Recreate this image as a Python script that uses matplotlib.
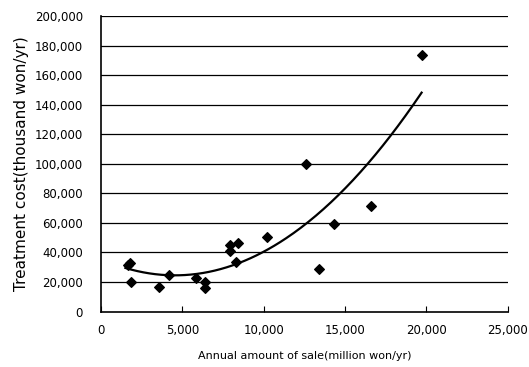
import numpy as np
import matplotlib.pyplot as plt
from matplotlib.ticker import FuncFormatter

# annual sale (million won/yr) vs treatment cost (thousand won/yr)
sale = [19700, 12600, 16600, 14300, 13400, 10200, 8400, 7900, 7900, 8300,
        1800, 1650, 1850, 3550, 4200, 5850, 6400, 6400]
cost = [173500, 99700, 71300, 59300, 28700, 50500, 46300, 45100, 41300, 33800,
        33100, 31600, 20100, 16500, 24600, 22800, 20300, 16200]

xticks = [0, 5000, 10000, 15000, 20000, 25000]
yticks = list(range(0, 200001, 20000))

fig = plt.figure(figsize=(5.29, 3.67), dpi=100)
ax = fig.add_axes([0.191, 0.151, 0.769, 0.805])

# horizontal grid lines
for yv in yticks[1:]:
    ax.axhline(yv, color="black", lw=0.9, zorder=1)

ax.scatter(sale, cost, marker="D", s=24, color="black", zorder=3)

# quadratic trend line
coef = np.polyfit(sale, cost, 2)
xs = np.linspace(min(sale) - 150, max(sale), 200)
ax.plot(xs, np.polyval(coef, xs), color="black", lw=1.6, zorder=2)

ax.set_xlim(0, 25000)
ax.set_ylim(0, 200000)
ax.set_xticks(xticks)
ax.set_yticks(yticks)
fmt = FuncFormatter(lambda v, p: f"{int(v):,}")
ax.xaxis.set_major_formatter(fmt)
ax.yaxis.set_major_formatter(fmt)
ax.tick_params(axis="x", direction="in", length=4, labelsize=8.5, pad=9)
ax.tick_params(axis="y", length=0, labelsize=8.5, pad=13)

for s in ["top", "right"]:
    ax.spines[s].set_visible(False)
ax.spines["left"].set_linewidth(1.2)
ax.spines["bottom"].set_linewidth(1.2)

ax.set_xlabel("Annual amount of sale(million won/yr)", fontsize=8, labelpad=10)
ax.set_ylabel("Treatment cost(thousand won/yr)", fontsize=11, labelpad=4)

fig.savefig("out.png", dpi=100)
